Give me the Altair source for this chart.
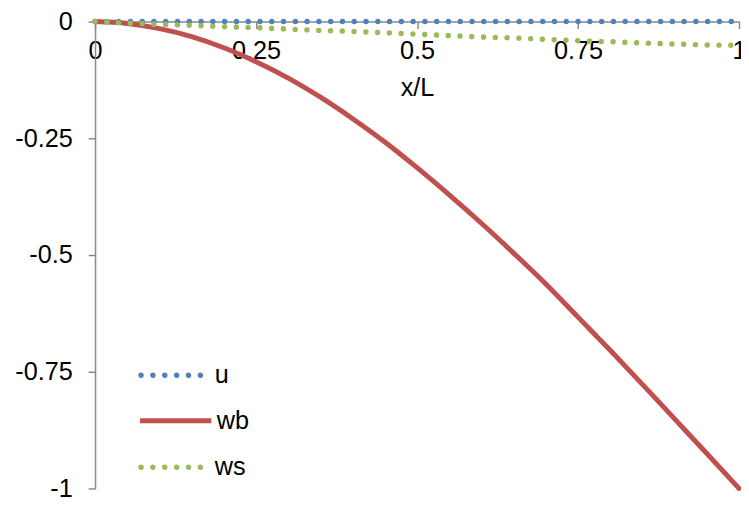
import altair as alt
import pandas as pd

# x/L positions
x_vals = [0.0, 0.05, 0.1, 0.15, 0.2, 0.25, 0.3, 0.35, 0.4, 0.45, 0.5,
          0.55, 0.6, 0.65, 0.7, 0.75, 0.8, 0.85, 0.9, 0.95, 1.0]
# series
u_vals = [0.0, 0.0, 0.0, 0.0, 0.0, 0.0, 0.0, 0.0, 0.0, 0.0, 0.0,
          0.0, 0.0, 0.0, 0.0, 0.0, 0.0, 0.0, 0.0, 0.0, 0.0]
wb_vals = [0.0, -0.004, -0.015, -0.032, -0.056, -0.086, -0.121, -0.162, -0.208, -0.258, -0.313,
           -0.371, -0.432, -0.496, -0.562, -0.633, -0.704, -0.777, -0.851, -0.925, -1.0]
ws_vals = [0.0, -0.003, -0.006, -0.008, -0.011, -0.013, -0.016, -0.019, -0.021, -0.024, -0.027,
           -0.030, -0.033, -0.035, -0.038, -0.041, -0.043, -0.046, -0.048, -0.050, -0.051]

series_names = ["u", "wb", "ws"]
series_colors = ["#4F81BD", "#C0504D", "#9BBB59"]

x_ticks = [0, 0.25, 0.5, 0.75, 1]
y_ticks = [0, -0.25, -0.5, -0.75, -1]

rows = []
for name, vals in zip(series_names, [u_vals, wb_vals, ws_vals]):
    for xv, yv in zip(x_vals, vals):
        rows.append({"x": xv, "value": yv, "series": name})
df = pd.DataFrame(rows)

PW, PH = 651, 472
FONT = "Liberation Sans"
FS = 25.5

# legend symbol: a row of six small round dots (path units scaled by 12 px)
r = 0.117
dot_path = "".join(
    f"M{c - r:.3f},0a{r},{r} 0 1,0 {2 * r:.3f},0a{r},{r} 0 1,0 {-2 * r:.3f},0"
    for c in [-2.5, -1.5, -0.5, 0.5, 1.5, 2.5]
)

x_enc = alt.X("x:Q",
              scale=alt.Scale(domain=[0, 1], nice=False, zero=False),
              axis=alt.Axis(values=x_ticks, orient="bottom", offset=-PH, title="x/L",
                            labelExpr="'' + datum.value", labelPadding=10, titlePadding=12,
                            labelFlush=False))
y_enc = alt.Y("value:Q",
              scale=alt.Scale(domain=[-1, 0], nice=False, zero=False),
              axis=alt.Axis(values=y_ticks, title=None, labelExpr="'' + datum.value",
                            labelPadding=16))

base = alt.Chart(df)

solid = base.transform_filter(alt.datum.series == "wb").mark_line(
    strokeWidth=5, strokeCap="round", interpolate="monotone"
).encode(
    x=x_enc,
    y=y_enc,
    color=alt.Color("series:N",
                    scale=alt.Scale(domain=["wb"], range=[series_colors[1]]),
                    legend=alt.Legend(title=None, orient="none", legendX=67, legendY=389,
                                      symbolType="M-3,0H3", symbolSize=576,
                                      symbolStrokeWidth=5, labelFontSize=FS,
                                      labelOffset=27, padding=0,
                                      labelColor="black", labelFont=FONT)),
)

dotted = base.transform_filter(alt.datum.series != "wb").mark_line(
    strokeWidth=5.5, strokeCap="round", strokeDash=[0.01, 11.9], interpolate="monotone"
).encode(
    x=x_enc,
    y=y_enc,
    color=alt.Color("series:N",
                    scale=alt.Scale(domain=[series_names[0], series_names[2]],
                                    range=[series_colors[0], series_colors[2]]),
                    legend=alt.Legend(title=None, orient="none", legendX=63, legendY=344,
                                      symbolType=dot_path, symbolSize=576,
                                      symbolStrokeWidth=2.8, symbolDash=[1, 0],
                                      labelFontSize=FS, labelOffset=31, rowPadding=66,
                                      padding=0, labelColor="black", labelFont=FONT)),
    order=alt.Order("series:N"),
)

chart = alt.layer(solid, dotted).resolve_scale(
    color="independent"
).resolve_legend(
    color="independent"
).properties(
    width=PW,
    height=PH,
    autosize=alt.AutoSizeParams(type="none"),
    padding={"left": 88, "top": 11, "right": 2, "bottom": 15},
).configure(
    font=FONT
).configure_view(
    stroke=None
).configure_axis(
    grid=False,
    domainColor="#898989",
    domainWidth=1.5,
    tickColor="#898989",
    tickWidth=1.5,
    tickSize=7,
    labelFontSize=FS,
    labelColor="black",
    labelFont=FONT,
    titleFont=FONT,
    titleFontSize=FS,
    titleFontWeight="normal",
    titleColor="black",
)

chart.save("out.html", embed_options={"renderer": "svg", "actions": False})
